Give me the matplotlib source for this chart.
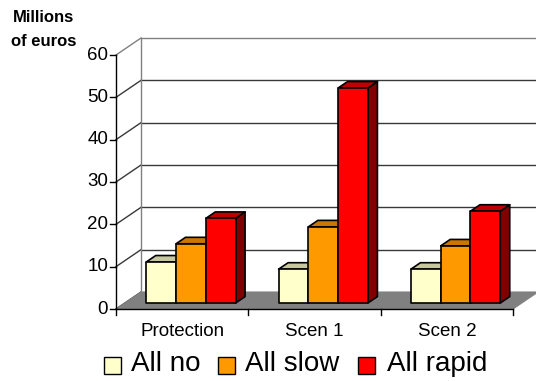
import matplotlib
matplotlib.use("Agg")
import matplotlib.pyplot as plt
from matplotlib.patches import Polygon, Rectangle

plt.rcParams['font.family'] = ['Liberation Sans', 'DejaVu Sans']

# Data
categories = ["Protection", "Scen 1", "Scen 2"]
series_names = ["All no", "All slow", "All rapid"]
all_no = [9.7, 8.0, 8.0]
all_slow = [14.0, 18.0, 13.5]
all_rapid = [20.0, 50.8, 21.7]
y_ticks = [0, 10, 20, 30, 40, 50, 60]

front_colors = ["#FFFFCC", "#FF9900", "#FF0000"]
top_colors = ["#C8C8A0", "#C87800", "#C00000"]
side_colors = ["#A0A080", "#995C00", "#800000"]

fig = plt.figure(figsize=(5.36, 3.81), dpi=100)
ax = fig.add_axes([116 / 536, 1 - 309 / 381, 397 / 536, 254 / 381])
ax.set_xlim(0, 3)
ax.set_ylim(0, 60)
ax.axis("off")

# oblique depth offset for the full floor depth (in data units)
D = 25 / 397 * 3
E = 17 / 254 * 60


def off(x, y, f):
    return (x + f * D, y + f * E)


# back wall gridlines and left wall diagonals
for v in y_ticks:
    col = "#808080" if v == 60 else "#383838"
    if v > 0:
        ax.plot([D, 3 + D + 0.2], [v + E, v + E], color=col, lw=1.0,
                clip_on=False, zorder=1)
    ax.plot([0, D], [v, v + E], color=col, lw=1.0, clip_on=False, zorder=1)
    ax.plot([-0.045, 0], [v, v], color="black", lw=1.0, clip_on=False, zorder=3)
    ax.text(-0.06, v, str(v), ha="right", va="center", fontsize=13.5,
            color="black", clip_on=False)

# left wall back edge
ax.plot([D, D], [E, 60 + E], color="#808080", lw=1.0, clip_on=False, zorder=1)

# floor
floor = Polygon([(0, 0), (3, 0), (3 + D, E), (D, E)], closed=True,
                facecolor="#808080", edgecolor="#808080", lw=0.8,
                clip_on=False, zorder=2)
ax.add_patch(floor)

# axes lines
ax.plot([0, 0], [0, 60], color="black", lw=1.0, clip_on=False, zorder=3)
ax.plot([0, 3], [0, 0], color="black", lw=1.0, clip_on=False, zorder=3)
for i in range(4):
    ax.plot([i, i], [0, -1.4], color="black", lw=1.0, clip_on=False, zorder=3)
for i, c in enumerate(categories):
    ax.text(i + 0.5, -3.2, c, ha="center", va="top", fontsize=13.5,
            clip_on=False)

# 3D-looking bars
bar_w = 0.225
f0, f1 = 0.35, 0.73
series = [all_no, all_slow, all_rapid]
z = 4
for i in range(len(categories)):
    for j, vals in enumerate(series):
        v = vals[i]
        x0 = i + 0.5 + (j - 1.5) * bar_w
        x1 = x0 + bar_w
        fl = [off(x0, 0, f0), off(x1, 0, f0), off(x1, v, f0), off(x0, v, f0)]
        top = [off(x0, v, f0), off(x1, v, f0), off(x1, v, f1), off(x0, v, f1)]
        side = [off(x1, 0, f0), off(x1, 0, f1), off(x1, v, f1), off(x1, v, f0)]
        for pts, col in ((side, side_colors[j]), (top, top_colors[j]),
                         (fl, front_colors[j])):
            ax.add_patch(Polygon(pts, closed=True, facecolor=col,
                                 edgecolor="black", lw=1.2, joinstyle="round",
                                 clip_on=False, zorder=z))
        z += 1

# unit label
fig.text(44 / 536, 1 - 17 / 381, "Millions", ha="center", va="center",
         fontsize=12, fontweight="bold")
fig.text(44 / 536, 1 - 41 / 381, "of euros", ha="center", va="center",
         fontsize=12, fontweight="bold")

# legend
leg_items = [(104, 131), (218, 245), (358, 387)]
for (sx, tx), name, col in zip(leg_items, series_names, front_colors):
    fig.patches.append(Rectangle((sx / 536, 1 - 374 / 381), 17 / 536, 17 / 381,
                                 transform=fig.transFigure, facecolor=col,
                                 edgecolor="black", lw=1.0))
    fig.text(tx / 536, 1 - 364 / 381, name, ha="left", va="center",
             fontsize=20)

fig.savefig("out.png", dpi=100)
